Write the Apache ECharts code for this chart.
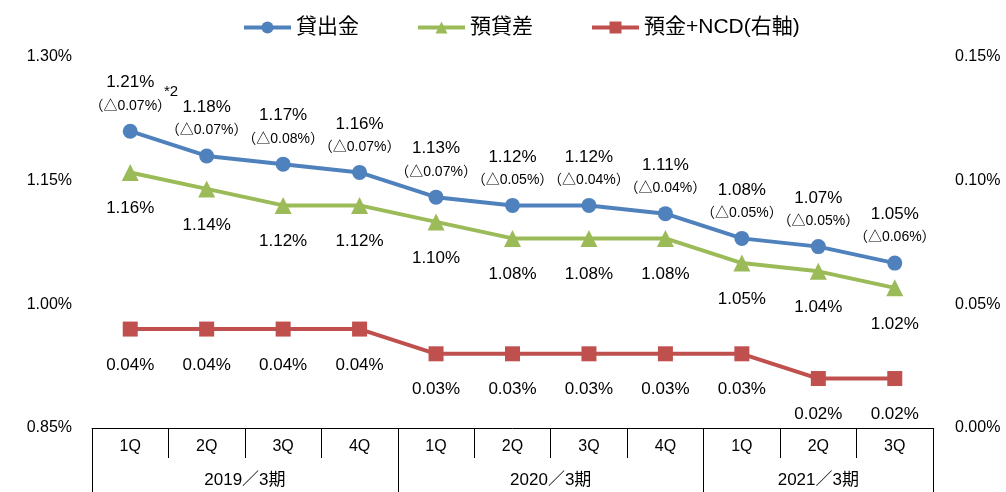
<!DOCTYPE html>
<html>
<head>
<meta charset="utf-8">
<script src="https://cdn.jsdelivr.net/npm/echarts@6/dist/echarts.min.js"></script>
<style>
    html, body { margin: 0; padding: 0; background: #fff; }
    #chart { width: 1006px; height: 492px; }
</style>
</head>
<body>
<div id="chart"></div>
<script>
// 四半期・期
var quarters = ['1Q', '2Q', '3Q', '4Q', '1Q', '2Q', '3Q', '4Q', '1Q', '2Q', '3Q'];
var years = ['2019／3期', '2020／3期', '2021／3期'];
var yearBounds = [0, 4, 8, 11];
var yearCenters = [2, 6, 9.5];

// 利回り（%）
var loanRate = [1.21, 1.18, 1.17, 1.16, 1.13, 1.12, 1.12, 1.11, 1.08, 1.07, 1.05];
var loanDelta = [0.07, 0.07, 0.08, 0.07, 0.07, 0.05, 0.04, 0.04, 0.05, 0.05, 0.06];
var spread = [1.16, 1.14, 1.12, 1.12, 1.10, 1.08, 1.08, 1.08, 1.05, 1.04, 1.02];
var depositRate = [0.04, 0.04, 0.04, 0.04, 0.03, 0.03, 0.03, 0.03, 0.03, 0.02, 0.02];

// 目盛
var leftTicks = [0.85, 1.00, 1.15, 1.30];
var rightTicks = [0.00, 0.05, 0.10, 0.15];

var FONT = '"Liberation Sans", "Noto Sans CJK JP", sans-serif';

var myChart = echarts.init(document.getElementById('chart'));
var option = {
    animation: false,
    textStyle: { fontFamily: FONT, color: '#000' },
    legend: {
        top: 12,
        left: 237,
        itemWidth: 47,
        itemHeight: 15,
        itemGap: 57,
        lineStyle: { width: 4 },
        textStyle: { fontSize: 21, color: '#000', fontFamily: FONT },
        data: ['貸出金', '預貸差', '預金+NCD(右軸)']
    },
    grid: { left: 92, right: 73, top: 57, bottom: 64 },
    xAxis: [
        {
            type: 'category',
            position: 'bottom',
            data: quarters,
            boundaryGap: true,
            axisLine: { lineStyle: { color: '#000', width: 1 } },
            axisTick: { show: true, interval: 0, length: 30, lineStyle: { color: '#000' } },
            axisLabel: { interval: 0, margin: 11, fontSize: 16, color: '#000', fontFamily: FONT }
        },
        {
            type: 'value',
            position: 'bottom',
            min: 0,
            max: 11,
            splitLine: { show: false },
            axisLine: { show: false },
            axisTick: { show: true, length: 64, customValues: yearBounds, lineStyle: { color: '#000' } },
            axisLabel: {
                customValues: yearCenters,
                margin: 44,
                fontSize: 17,
                color: '#000',
                fontFamily: FONT,
                formatter: function (v) {
                    var i = yearCenters.indexOf(v);
                    return i >= 0 ? years[i] : '';
                }
            }
        }
    ],
    yAxis: [
        {
            type: 'value',
            min: 0.85,
            max: 1.30,
            splitLine: { show: false },
            axisLine: { show: false },
            axisTick: { show: false },
            axisLabel: {
                customValues: leftTicks,
                margin: 20,
                fontSize: 16,
                color: '#000',
                fontFamily: FONT,
                formatter: function (v) { return v.toFixed(2) + '%'; }
            }
        },
        {
            type: 'value',
            min: 0,
            max: 0.15,
            splitLine: { show: false },
            axisLine: { show: false },
            axisTick: { show: false },
            axisLabel: {
                customValues: rightTicks,
                margin: 22,
                fontSize: 16,
                color: '#000',
                fontFamily: FONT,
                formatter: function (v) { return v.toFixed(2) + '%'; }
            }
        }
    ],
    series: [
        {
            name: '貸出金',
            type: 'line',
            yAxisIndex: 0,
            data: loanRate,
            color: '#4F81BD',
            lineStyle: { width: 4 },
            symbol: 'circle',
            symbolSize: 15,
            label: {
                show: true,
                position: 'top',
                distance: 7,
                align: 'center',
                formatter: function (p) {
                    return '{v|' + p.value.toFixed(2) + '%}\n{d|（△' + loanDelta[p.dataIndex].toFixed(2) + '%）}';
                },
                rich: {
                    v: { fontSize: 17, lineHeight: 24, color: '#000', fontFamily: FONT },
                    d: { fontSize: 14, lineHeight: 22, color: '#000', fontFamily: FONT }
                }
            }
        },
        {
            name: '預貸差',
            type: 'line',
            yAxisIndex: 0,
            data: spread,
            color: '#9BBB59',
            lineStyle: { width: 4 },
            symbol: 'triangle',
            symbolSize: 17,
            label: {
                show: true,
                position: 'bottom',
                distance: 19,
                fontSize: 17,
                color: '#000',
                fontFamily: FONT,
                formatter: function (p) { return p.value.toFixed(2) + '%'; }
            }
        },
        {
            name: '預金+NCD(右軸)',
            type: 'line',
            yAxisIndex: 1,
            data: depositRate,
            color: '#C0504D',
            lineStyle: { width: 4 },
            symbol: 'rect',
            symbolSize: 15,
            label: {
                show: true,
                position: 'bottom',
                distance: 20,
                fontSize: 17,
                color: '#000',
                fontFamily: FONT,
                formatter: function (p) { return p.value.toFixed(2) + '%'; }
            }
        }
    ],
    graphic: [
        {
            type: 'text',
            left: 164,
            top: 84,
            style: { text: '*2', fontSize: 15, fill: '#000', fontFamily: FONT }
        }
    ]
};
myChart.setOption(option);
</script>
</body>
</html>
